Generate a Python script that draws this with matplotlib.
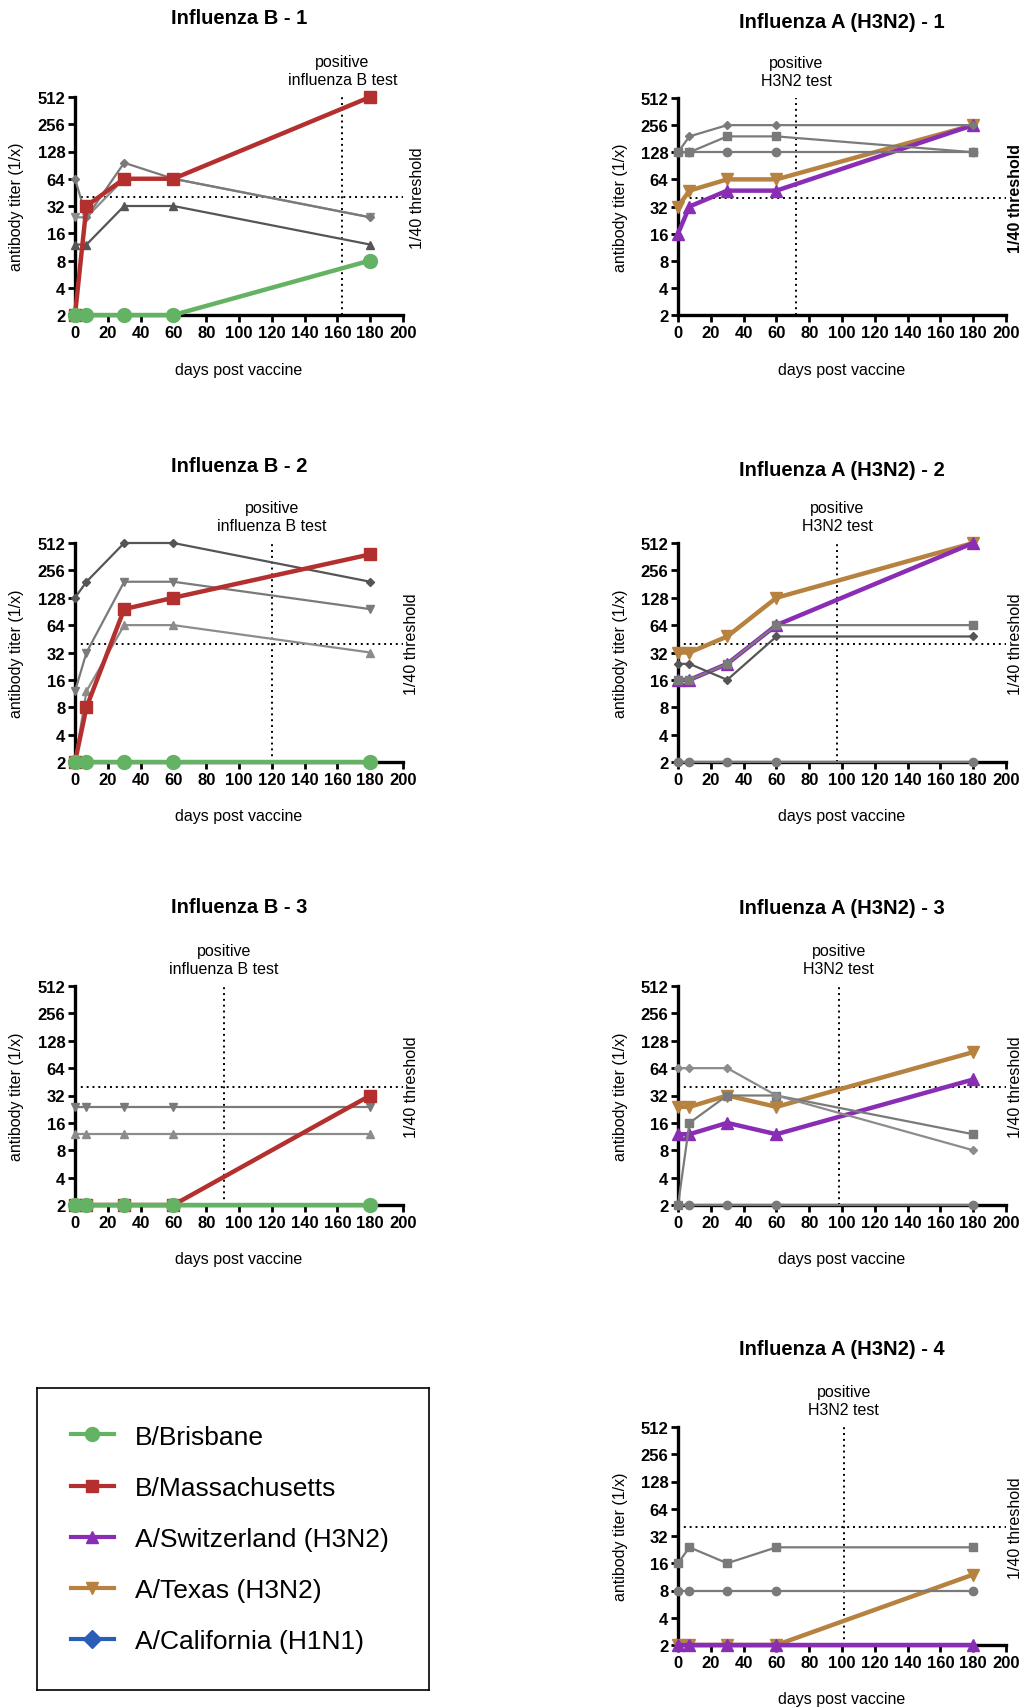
import numpy as np
import matplotlib
matplotlib.use('Agg')
import matplotlib.pyplot as plt
from matplotlib.lines import Line2D
from matplotlib.ticker import NullLocator
import matplotlib.transforms as mtransforms

plt.rcParams['font.family'] = ['Liberation Sans', 'DejaVu Sans']

W, H = 1027, 1708

days = [0, 7, 30, 60, 180]
y_ticks = [2, 4, 8, 16, 32, 64, 128, 256, 512]
x_ticks = list(range(0, 201, 20))
threshold = 40

strain_names = ['B/Brisbane', 'B/Massachusetts', 'A/Switzerland (H3N2)',
                'A/Texas (H3N2)', 'A/California (H1N1)']
strain_colors = ['#64b264', '#b3302f', '#8a2db5', '#b7813f', '#2a5db5']
strain_markers = ['o', 's', '^', 'v', 'D']

# Influenza B - 1
b1_brisbane = [2, 2, 2, 2, 8]
b1_mass = [2, 32, 64, 64, 512]
b1_switz = [12, 12, 32, 32, 12]
b1_texas = [24, 24, 64, 64, 24]
b1_calif = [64, 24, 96, 64, 24]

# Influenza B - 2
b2_brisbane = [2, 2, 2, 2, 2]
b2_mass = [2, 8, 96, 128, 384]
b2_switz = [2, 12, 64, 64, 32]
b2_texas = [12, 32, 192, 192, 96]
b2_calif = [128, 192, 512, 512, 192]

# Influenza B - 3
b3_brisbane = [2, 2, 2, 2, 2]
b3_mass = [2, 2, 2, 2, 32]
b3_switz = [12, 12, 12, 12, 12]
b3_texas = [24, 24, 24, 24, 24]

# Influenza A (H3N2) - 1
a1_brisbane = [128, 128, 128, 128, 128]
a1_mass = [128, 128, 192, 192, 128]
a1_switz = [16, 32, 48, 48, 256]
a1_texas = [32, 48, 64, 64, 256]
a1_calif = [128, 192, 256, 256, 256]

# Influenza A (H3N2) - 2
a2_brisbane = [2, 2, 2, 2, 2]
a2_mass = [16, 16, 24, 64, 64]
a2_switz = [16, 16, 24, 64, 512]
a2_texas = [32, 32, 48, 128, 512]
a2_calif = [24, 24, 16, 48, 48]

# Influenza A (H3N2) - 3
a3_brisbane = [2, 2, 2, 2, 2]
a3_mass = [2, 16, 32, 32, 12]
a3_switz = [12, 12, 16, 12, 48]
a3_texas = [24, 24, 32, 24, 96]
a3_calif = [64, 64, 64, 32, 8]

# Influenza A (H3N2) - 4
a4_brisbane = [8, 8, 8, 8, 8]
a4_mass = [16, 24, 16, 24, 24]
a4_switz = [2, 2, 2, 2, 2]
a4_texas = [2, 2, 2, 2, 12]

# day of positive test per panel
pos_b1, pos_b2, pos_b3 = 163, 120, 91
pos_a1, pos_a2, pos_a3, pos_a4 = 72, 97, 98, 101

G1, G2, G3 = '#555555', '#7a7a7a', '#8c8c8c'

# (title, box px, title y px, test day, test label, series, threshold dx, bold thr)
# series: (strain index, values, grey colour or None for the strain colour)
panels = [
    ('Influenza B - 1', (75, 98, 403, 316), 18, pos_b1, 'positive\ninfluenza B test',
     [(2, b1_switz, G1), (3, b1_texas, G3), (4, b1_calif, G2),
      (1, b1_mass, None), (0, b1_brisbane, None)], 15, False),
    ('Influenza A (H3N2) - 1', (678, 99, 1006, 316), 23, pos_a1, 'positive\nH3N2 test',
     [(3, a1_texas, None), (2, a1_switz, None), (0, a1_brisbane, G2),
      (1, a1_mass, G2), (4, a1_calif, G2)], 9, True),
    ('Influenza B - 2', (75, 544, 403, 763), 466, pos_b2, 'positive\ninfluenza B test',
     [(2, b2_switz, G3), (3, b2_texas, G2), (4, b2_calif, G1),
      (1, b2_mass, None), (0, b2_brisbane, None)], 9, False),
    ('Influenza A (H3N2) - 2', (678, 544, 1006, 763), 471, pos_a2, 'positive\nH3N2 test',
     [(3, a2_texas, None), (2, a2_switz, None), (0, a2_brisbane, G2),
      (1, a2_mass, G2), (4, a2_calif, G1)], 9, False),
    ('Influenza B - 3', (75, 987, 403, 1206), 908, pos_b3, 'positive\ninfluenza B test',
     [(2, b3_switz, G3), (3, b3_texas, G2),
      (1, b3_mass, None), (0, b3_brisbane, None)], 8, False),
    ('Influenza A (H3N2) - 3', (678, 987, 1006, 1206), 909, pos_a3, 'positive\nH3N2 test',
     [(3, a3_texas, None), (2, a3_switz, None), (0, a3_brisbane, G2),
      (1, a3_mass, G2), (4, a3_calif, G3)], 9, False),
    ('Influenza A (H3N2) - 4', (678, 1428, 1006, 1646), 1350, pos_a4, 'positive\nH3N2 test',
     [(3, a4_texas, None), (2, a4_switz, None), (0, a4_brisbane, G2),
      (1, a4_mass, G2)], 9, False),
]

fig = plt.figure(figsize=(W / 100, H / 100), dpi=100)


def px_axes(l, t, r, b):
    return fig.add_axes([l / W, 1 - b / H, (r - l) / W, (b - t) / H])


for title, box, ty, pos_day, pos_txt, series, thr_dx, thr_bold in panels:
    ax = px_axes(*box)
    l, t, r, b = box
    aw, ah = r - l, b - t

    for idx, vals, col in series:
        thick = col is None
        c = strain_colors[idx] if thick else col
        m = strain_markers[idx]
        if thick:
            ms = 10 if m == 'o' else 9
            lw = 3.2
        else:
            ms = 4.5 if m == 'D' else 6
            lw = 1.6
        ax.plot(days, vals, color=c, marker=m, ms=ms, lw=lw, mec=c,
                clip_on=False, zorder=3)

    ax.axhline(threshold, color='k', ls=(0, (1, 2)), lw=1.4, zorder=2)
    ax.axvline(pos_day, color='k', ls=(0, (1, 2)), lw=1.4, zorder=2)

    ax.set_yscale('log', base=2)
    ax.set_ylim(2, 512)
    ax.set_xlim(0, 200)
    ax.set_yticks(y_ticks)
    ax.set_yticklabels([str(v) for v in y_ticks], fontweight='bold')
    ax.yaxis.set_minor_locator(NullLocator())
    ax.set_xticks(x_ticks)
    ax.set_xticklabels([str(v) for v in x_ticks], fontweight='bold')
    ax.tick_params(direction='out', length=5, width=2, labelsize=12, pad=2,
                   color='k')
    for s in ['top', 'right']:
        ax.spines[s].set_visible(False)
    for s in ['left', 'bottom']:
        ax.spines[s].set_linewidth(2.4)

    ax.set_ylabel('antibody titer (1/x)', fontsize=11.5)
    ax.yaxis.set_label_coords(-58 / aw, 0.5)
    ax.yaxis.label.set_va('center')
    ax.set_xlabel('days post vaccine', fontsize=11.5)
    ax.xaxis.set_label_coords(0.5, -54 / ah)
    ax.xaxis.label.set_va('center')

    ax.text(0.5, 1 + (t - ty) / ah, title, transform=ax.transAxes,
            ha='center', va='center', fontsize=14.5, fontweight='bold')

    ax.annotate(pos_txt, xy=(pos_day, 1), xycoords=('data', 'axes fraction'),
                xytext=(0, 7), textcoords='offset points', ha='center',
                va='bottom', fontsize=11.5, linespacing=1.25)

    trans = mtransforms.blended_transform_factory(ax.transAxes, ax.transData)
    ax.text(1 + thr_dx / aw, threshold, '1/40 threshold', transform=trans,
            rotation=90, ha='center', va='center', fontsize=11.5,
            fontweight='bold' if thr_bold else 'normal')

# legend box
lax = px_axes(37, 1389, 429, 1691)
lax.set_xticks([])
lax.set_yticks([])
for s in lax.spines.values():
    s.set_linewidth(1.2)
handles = [Line2D([], [], color=c, marker=m, lw=3, ms=10 if m == 'o' else 9)
           for c, m in zip(strain_colors, strain_markers)]
lax.legend(handles, strain_names, loc='center left', frameon=False,
           fontsize=19, handlelength=1.6, handletextpad=0.8,
           labelspacing=1.03, borderaxespad=0.9)

fig.savefig('out.png', dpi=100)
